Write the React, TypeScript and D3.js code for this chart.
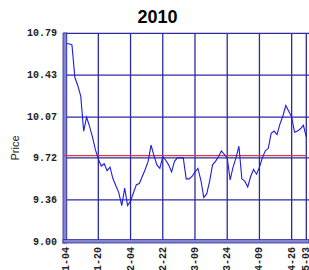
import React from "react";
import * as d3 from "d3";

// trading-day tick labels (index into prices)
const tickIdx = [0, 11, 22, 33, 44, 55, 66, 77, 82];
const tickLabels = [
  "2010-01-04", "2010-01-20", "2010-02-04", "2010-02-22", "2010-03-09",
  "2010-03-24", "2010-04-09", "2010-04-26", "2010-05-03",
];
const yTicks = [9.0, 9.36, 9.72, 10.07, 10.43, 10.79];

// daily closes
const prices = [
  10.70, 10.70, 10.69, 10.41, 10.34, 10.25, 9.95, 10.07, 9.99, 9.90,
  9.79, 9.71, 9.65, 9.67, 9.61, 9.64, 9.54, 9.48, 9.42, 9.31,
  9.46, 9.31, 9.35, 9.42, 9.49, 9.50, 9.56, 9.62, 9.69, 9.83,
  9.74, 9.66, 9.63, 9.73, 9.70, 9.66, 9.60, 9.69, 9.72, 9.72,
  9.72, 9.54, 9.54, 9.56, 9.60, 9.63, 9.53, 9.38, 9.41, 9.52,
  9.66, 9.69, 9.73, 9.78, 9.75, 9.72, 9.53, 9.64, 9.72, 9.82,
  9.54, 9.52, 9.47, 9.56, 9.62, 9.58, 9.64, 9.72, 9.78, 9.80,
  9.93, 9.95, 9.92, 10.01, 10.08, 10.17, 10.12, 10.07, 9.94, 9.95,
  9.97, 10.00, 9.90,
];
const avgPrice = 9.74;

const W = 309;
const H = 270;

export default function App() {
  const x = d3.scaleLinear().domain([0, 82]).range([66.1, 306.3]);
  const y = d3.scaleLinear().domain([9.0, 10.79]).range([241.7, 33.3]);
  const line = d3
    .line<number>()
    .x((_, i) => x(i))
    .y((d) => y(d));

  const grid = "#2b2b9e";
  const mono = "'Liberation Mono', 'DejaVu Sans Mono', monospace";

  return (
    <svg
      width={W}
      height={H}
      style={{ position: "absolute", left: 0, top: 0, background: "#fff" }}
    >
      <text
        x={157.5}
        y={23}
        textAnchor="middle"
        fontFamily="'Liberation Sans', Arial, sans-serif"
        fontWeight="bold"
        fontSize={18}
        fill="#000"
      >
        2010
      </text>

      {/* horizontal grid */}
      {yTicks.map((t) => (
        <line
          key={"h" + t}
          x1={64}
          x2={W}
          y1={y(t)}
          y2={y(t)}
          stroke={grid}
          strokeWidth={1.3}
        />
      ))}
      {/* vertical grid */}
      {tickIdx.map((t) => (
        <line
          key={"v" + t}
          x1={x(t)}
          x2={x(t)}
          y1={y(10.79)}
          y2={y(9.0)}
          stroke={grid}
          strokeWidth={1.3}
        />
      ))}

      {/* thick left / bottom frame */}
      <rect x={63} y={33} width={3.8} height={210} fill="#8585d0" stroke={grid} strokeWidth={0.8} />
      <rect x={63} y={239.6} width={W - 63} height={3.4} fill="#8585d0" stroke={grid} strokeWidth={0.8} />

      {/* mean line */}
      <line
        x1={64}
        x2={306.5}
        y1={y(avgPrice)}
        y2={y(avgPrice)}
        stroke="#e03838"
        strokeWidth={1.3}
      />

      <path d={line(prices) ?? ""} fill="none" stroke="#1c1ce0" strokeWidth={1.1} />

      {/* y labels */}
      {yTicks.map((t) => (
        <text
          key={"yl" + t}
          x={57}
          y={y(t) + 3}
          textAnchor="end"
          fontFamily={mono}
          fontWeight="bold"
          fontSize={10}
          fill="#222"
        >
          {t.toFixed(2)}
        </text>
      ))}

      {/* x labels */}
      {tickIdx.map((t, i) => (
        <text
          key={"xl" + t}
          transform={`translate(${x(t) + 3},${247}) rotate(-90)`}
          textAnchor="end"
          fontFamily={mono}
          fontWeight="bold"
          fontSize={10}
          fill="#222"
        >
          {tickLabels[i]}
        </text>
      ))}

      <text
        transform="translate(19,148) rotate(-90)"
        textAnchor="middle"
        fontFamily="'Liberation Sans', Arial, sans-serif"
        fontSize={11}
        fill="#222"
      >
        Price
      </text>
    </svg>
  );
}
